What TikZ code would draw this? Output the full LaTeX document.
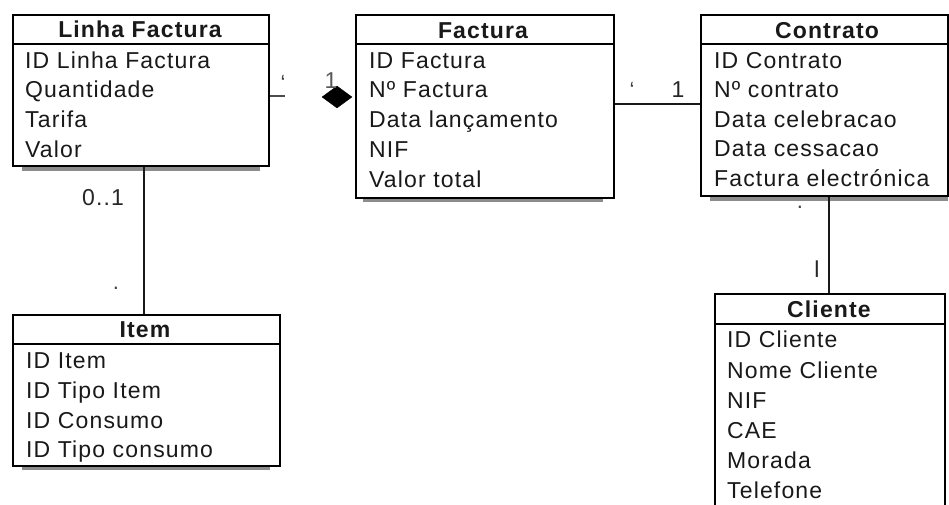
\documentclass[tikz,border=0pt]{standalone}
\usepackage{fontspec}
\setmainfont{Liberation Sans}[LetterSpace=5]
\usetikzlibrary{shapes.geometric}
\tikzset{
  box/.style={draw=black, line width=2pt, anchor=north west, inner sep=0pt},
  hdr/.style={font=\fontsize{23}{26}\selectfont\bfseries, anchor=base, inner sep=0pt, text=black!90},
  attr/.style={font=\fontsize{23}{26}\selectfont, anchor=base west, inner sep=0pt, text=black!90},
  mult/.style={font=\fontsize{23}{26}\selectfont, anchor=base, inner sep=0pt, text=black!85},
  tick/.style={font=\fontsize{22}{24}\selectfont, inner sep=0pt, text=black!75},
  dotmark/.style={font=\fontsize{22}{24}\selectfont, inner sep=0pt, text=black!75, anchor=base, text height=3pt, text depth=0pt},
  conn/.style={draw=black!90, line width=2pt},
  shade/.style={draw=black!45, line width=4pt},
  divider/.style={draw=black, line width=2pt},
}
\begin{document}
\begin{tikzpicture}[x=1pt,y=-1pt]
\clip (0,0) rectangle (949,504);
\fill[white] (0,0) rectangle (949,504);

% ---------- Linha Factura ----------
\draw[shade] (22,168.5) -- (260,168.5);
\node[box, minimum width=256pt, minimum height=151pt] (lf) at (12,14) {};
\draw[divider] (12,44) -- (268,44);
\node[hdr] (lfh) at (140,37) {Linha Factura};
\node[attr] (lf1) at (25,68) {ID Linha Factura};
\node[attr] (lf2) at (25,97) {Quantidade};
\node[attr] (lf3) at (25,127) {Tarifa};
\node[attr] (lf4) at (25,157) {Valor};

% ---------- Factura ----------
\draw[shade] (363,199.5) -- (603,199.5);
\node[box, minimum width=258pt, minimum height=183pt] (fa) at (355,14) {};
\draw[divider] (355,44) -- (613,44);
\node[hdr] (fah) at (483,38) {Factura};
\node[attr] (fa1) at (369,68) {ID Factura};
\node[attr] (fa2) at (369,97) {Nº Factura};
\node[attr] (fa3) at (369,127) {Data lançamento};
\node[attr] (fa4) at (369,157) {NIF};
\node[attr] (fa5) at (369,187) {Valor total};

% ---------- Contrato ----------
\draw[shade] (710,198.5) -- (948,198.5);
\node[box, minimum width=247pt, minimum height=181pt] (ct) at (700,14) {};
\draw[divider] (700,43.5) -- (947,43.5);
\node[hdr] (cth) at (827,38) {Contrato};
\node[attr] (ct1) at (714,68) {ID Contrato};
\node[attr] (ct2) at (714,97) {Nº contrato};
\node[attr] (ct3) at (714,127) {Data celebracao};
\node[attr] (ct4) at (714,156) {Data cessacao};
\node[attr] (ct5) at (714,186) {Factura electrónica};

% ---------- Item ----------
\draw[shade] (22,468) -- (270,468);
\node[box, minimum width=267pt, minimum height=151pt] (it) at (12,314) {};
\draw[divider] (12,344) -- (279,344);
\node[hdr] (ith) at (145,337) {Item};
\node[attr] (it1) at (26,368) {ID Item};
\node[attr] (it2) at (26,398) {ID Tipo Item};
\node[attr] (it3) at (26,428) {ID Consumo};
\node[attr] (it4) at (26,457) {ID Tipo consumo};

% ---------- Cliente ----------
\node[box, minimum width=230pt, minimum height=240pt] (cl) at (714,293) {};
\draw[divider] (714,324) -- (944,324);
\node[hdr] (clh) at (829,317) {Cliente};
\node[attr] (cl1) at (727,347) {ID Cliente};
\node[attr] (cl2) at (727,378) {Nome Cliente};
\node[attr] (cl3) at (727,408) {NIF};
\node[attr] (cl4) at (727,438) {CAE};
\node[attr] (cl5) at (727,468) {Morada};
\node[attr] (cl6) at (727,498) {Telefone};

% ---------- connectors ----------
% Linha Factura -- Factura (composition)
\coordinate (stub) at (285,96);
\draw[conn, draw=black!70] (stub -| lf.east) -- (stub);
\node[diamond, fill=black, draw=black, inner sep=0pt, minimum width=30pt, minimum height=22pt, aspect=1.36] (dia) at (337,97) {};
\node[tick] (m1) at (283,83) {`};
\node[mult, text=black!65] (m2) at (331,88) {1};

% Factura -- Contrato
\coordinate (fcy) at (650,104);
\draw[conn] (fcy -| fa.east) -- (fcy -| ct.west);
\node[tick] (m3) at (632,90) {`};
\node[mult] (m4) at (678,97) {1};

% Contrato -- Cliente
\coordinate (ccx) at (829,250);
\draw[conn] (ccx |- ct.south) -- (ccx |- cl.north);
\node[dotmark] (m5) at (800,208) {.};
\node[mult] (m6) at (817,277) {l};

% Linha Factura -- Item
\coordinate (lix) at (144,250);
\draw[conn] (lix |- lf.south) -- (lix |- it.north);
\node[mult] (m7) at (103,205) {0..1};
\node[dotmark] (m8) at (116,289) {.};
\end{tikzpicture}
\end{document}
